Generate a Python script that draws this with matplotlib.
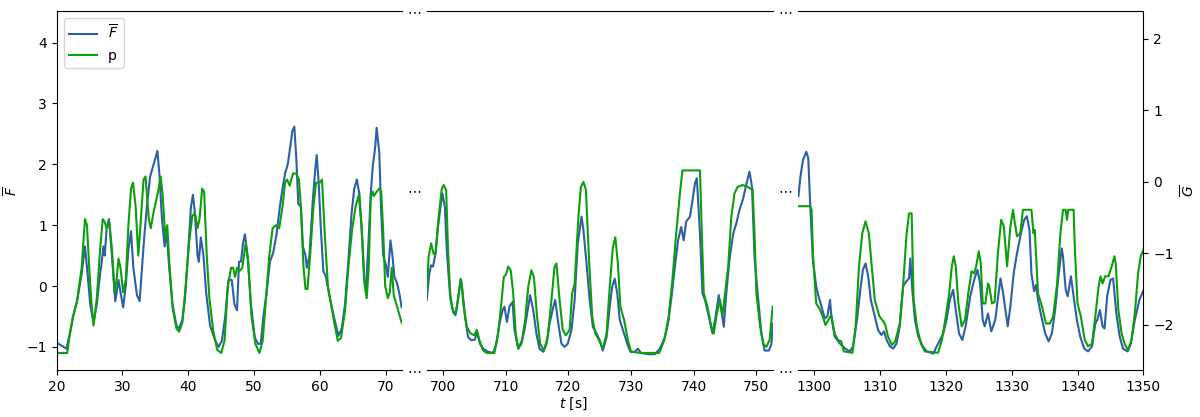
import matplotlib
matplotlib.use("Agg")
import matplotlib.pyplot as plt
import numpy as np

# segment 1 (20 - 72 s), F units
t1_f = [20.0, 21.5, 22.0, 22.5, 23.1, 23.8, 24.3, 24.7, 25.1, 25.6, 26.1, 26.6, 26.8, 27.1, 27.3,
        27.6, 27.95, 28.4, 28.9, 29.4, 29.7, 30.1, 30.5, 30.9, 31.3, 31.65, 32.2, 32.6, 32.9, 33.3,
        33.7, 34.2, 34.6, 35.0, 35.3, 35.6, 36.0, 36.4, 36.7, 37.1, 37.6, 38.2, 38.6, 39.1, 39.5,
        40.0, 40.4, 40.7, 41.0, 41.4, 41.6, 41.9, 42.3, 42.7, 43.3, 44.1, 44.6, 45.1, 45.6, 46.1,
        46.6, 47.0, 47.4, 47.7, 48.0, 48.3, 48.6, 49.0, 49.5, 50.1, 50.6, 51.0, 51.4, 51.9, 52.4,
        52.9, 53.4, 53.9, 54.3, 54.7, 55.1, 55.5, 55.8, 56.1, 56.4, 56.7, 57.1, 57.4, 57.8, 58.0,
        58.4, 58.9, 59.3, 59.5, 59.8, 60.1, 60.5, 60.9, 61.5, 62.1, 62.8, 63.3, 63.8, 64.3, 64.8,
        65.2, 65.6, 66.0, 66.4, 66.7, 67.0, 67.4, 67.7, 68.0, 68.4, 68.6, 69.0, 69.3, 69.6, 70.0,
        70.3, 70.7, 71.0, 71.3, 71.7, 72.1, 72.4]
F1 = [-0.93, -1.03, -0.78, -0.5, -0.25, 0.2, 0.65, 0.2, -0.3, -0.6, -0.3, 0.2, 0.35, 0.65, 0.5,
      0.95, 1.1, 0.5, -0.25, 0.1, -0.1, -0.35, 0.0, 0.6, 0.9, 0.3, -0.15, -0.25, 0.2, 0.8,
      1.3, 1.8, 1.95, 2.1, 2.22, 1.85, 1.1, 0.65, 0.9, 0.3, -0.3, -0.65, -0.7, -0.55, -0.2,
      0.6, 1.3, 1.5, 1.2, 0.5, 0.4, 0.8, 0.5, -0.1, -0.65, -0.9, -1.0, -0.9, -0.5, 0.1,
      0.1, -0.3, -0.4, 0.4, 0.4, 0.7, 0.85, 0.5, -0.3, -0.85, -0.95, -0.95, -0.5, -0.1, 0.4,
      0.55, 0.85, 1.3, 1.6, 1.85, 2.0, 2.3, 2.55, 2.62, 2.1, 1.35, 1.3, 0.65, 0.5, 0.3,
      0.5, 1.4, 1.95, 2.15, 1.7, 1.0, 0.25, 0.15, -0.2, -0.5, -0.82, -0.7, -0.3, 0.4, 1.2,
      1.6, 1.75, 1.5, 0.8, 0.1, -0.05, 0.8, 1.5, 1.95, 2.3, 2.6, 2.2, 1.2, 0.5, 0.35,
      0.15, 0.75, 0.5, 0.15, 0.05, -0.15, -0.35]
t1_p = [20.0, 21.6, 22.0, 22.5, 23.1, 23.8, 24.3, 24.6, 25.0, 25.3, 25.6, 26.1, 26.6, 27.0, 27.3,
        27.6, 28.0, 28.4, 28.8, 29.1, 29.4, 29.7, 30.1, 30.5, 30.9, 31.3, 31.6, 32.0, 32.4, 32.8,
        33.2, 33.5, 34.0, 34.3, 34.7, 35.1, 35.5, 35.8, 36.1, 36.5, 36.8, 37.1, 37.6, 38.2, 38.6,
        39.1, 39.6, 40.1, 40.6, 41.0, 41.4, 41.7, 42.1, 42.4, 42.8, 43.2, 43.8, 44.4, 45.0, 45.5,
        46.0, 46.5, 46.8, 47.1, 47.4, 47.8, 48.2, 48.7, 49.1, 49.6, 50.2, 50.8, 51.3, 51.8, 52.3,
        52.8, 53.3, 53.8, 54.3, 54.7, 55.0, 55.4, 55.9, 56.4, 56.8, 57.1, 57.5, 57.8, 58.1, 58.5,
        59.0, 59.4, 60.0, 60.3, 60.7, 61.2, 62.0, 62.7, 63.2, 63.8, 64.3, 64.9, 65.4, 65.9, 66.3,
        66.8, 67.1, 67.4, 67.7, 68.0, 68.2, 68.6, 69.0, 69.3, 69.6, 69.9, 70.3, 70.6, 70.9, 71.2,
        71.6, 72.0, 72.4]
p1 = [-1.1, -1.1, -0.8, -0.5, -0.25, 0.3, 1.1, 1.0, 0.2, -0.3, -0.65, -0.2, 0.6, 1.1, 1.05,
      0.95, 1.05, 0.6, -0.1, 0.1, 0.45, 0.3, -0.1, 0.1, 1.0, 1.6, 1.7, 1.3, 0.5, 1.1,
      1.75, 1.8, 1.1, 0.95, 1.2, 1.4, 1.6, 1.8, 1.5, 0.8, 1.0, 0.4, -0.35, -0.7, -0.75,
      -0.6, 0.0, 0.7, 1.15, 1.2, 0.95, 1.1, 1.6, 1.55, 0.5, -0.2, -0.75, -1.05, -1.1, -0.9,
      0.0, 0.3, 0.3, 0.15, 0.3, 0.25, 0.3, 0.7, 0.4, -0.5, -0.95, -1.1, -0.9, -0.2, 0.5,
      0.95, 1.0, 0.95, 1.3, 1.7, 1.75, 1.65, 1.85, 1.85, 1.75, 1.3, 0.3, -0.05, -0.05, 0.5,
      1.3, 1.7, 1.7, 1.75, 0.9, 0.0, -0.5, -0.9, -0.85, -0.4, 0.3, 0.95, 1.3, 1.5, 1.0,
      0.0, -0.2, 0.3, 1.45, 1.55, 1.48, 1.55, 1.6, 1.55, 0.9, 0.0, -0.2, -0.1, 0.3, -0.15,
      -0.3, -0.45, -0.6]

# segment 2 (697 - 753 s), F units
t2_f = [697.4, 697.8, 698.1, 698.4, 698.8, 699.2, 699.6, 699.9, 700.3, 700.6, 701.1, 701.6, 702.0,
        702.4, 702.8, 703.1, 703.5, 704.0, 704.5, 705.1, 705.4, 705.9, 706.4, 707.2, 708.0, 708.5,
        709.0, 709.5, 709.8, 710.2, 710.6, 711.1, 711.4, 712.0, 712.5, 713.0, 713.6, 713.9, 714.4,
        714.9, 715.4, 716.0, 716.5, 717.0, 717.6, 717.9, 718.4, 718.9, 719.4, 719.9, 720.5, 721.0,
        721.5, 722.1, 722.4, 722.9, 723.4, 723.9, 724.5, 725.0, 725.5, 726.1, 726.6, 727.0, 727.4,
        727.8, 728.2, 728.7, 729.4, 729.9, 730.6, 731.1, 731.6, 732.7, 733.8, 734.6, 735.4, 735.9,
        736.4, 737.0, 737.5, 738.0, 738.4, 738.8, 739.4, 739.9, 740.2, 740.5, 741.0, 741.4, 741.8,
        742.3, 743.0, 743.5, 744.0, 744.4, 744.8, 745.2, 745.7, 746.3, 746.8, 747.3, 747.9, 748.3,
        748.9, 749.3, 749.7, 750.3, 750.8, 751.3, 752.0, 752.4, 752.6]
F2 = [-0.23, 0.2, 0.34, 0.32, 0.53, 0.97, 1.3, 1.52, 1.3, 0.59, -0.12, -0.42, -0.48,
      -0.23, 0.12, -0.07, -0.5, -0.84, -0.89, -0.88, -0.75, -0.95, -1.03, -1.08, -1.1, -0.95,
      -0.62, -0.4, -0.34, -0.59, -0.34, -0.26, -0.72, -1.03, -0.95, -0.72, -0.34, -0.15, -0.4,
      -0.78, -1.03, -1.08, -0.95, -0.62, -0.34, -0.23, -0.62, -0.95, -1.0, -0.95, -0.72, -0.23,
      0.7, 1.14, 0.92, 0.37, -0.23, -0.67, -0.78, -0.89, -1.06, -0.84, -0.34, -0.01, 0.12,
      -0.12, -0.56, -0.72, -0.95, -1.08, -1.08, -1.03, -1.1, -1.12, -1.12, -1.03, -0.84, -0.62,
      -0.23, 0.32, 0.75, 0.97, 0.75, 1.06, 1.14, 1.47, 1.69, 1.77, 0.86, -0.12, -0.23,
      -0.45, -0.78, -0.5, -0.15, -0.4, -0.67, -0.12, 0.43, 0.86, 1.03, 1.25, 1.44, 1.63,
      1.88, 1.63, 0.48, -0.23, -0.78, -1.06, -1.06, -0.95, -0.62]
t2_p = [697.4, 697.7, 698.1, 698.5, 698.8, 699.3, 699.8, 700.1, 700.5, 700.8, 701.2, 701.7, 702.1,
        702.5, 702.9, 703.3, 703.8, 704.4, 705.0, 705.4, 705.8, 706.4, 707.0, 708.2, 708.8, 709.3,
        709.7, 710.1, 710.4, 710.8, 711.2, 711.6, 712.0, 712.6, 713.1, 713.6, 714.1, 714.5, 715.0,
        715.5, 716.1, 716.7, 717.3, 717.8, 718.1, 718.6, 719.1, 719.6, 720.2, 720.6, 721.0, 721.6,
        722.0, 722.4, 722.8, 723.3, 723.8, 724.3, 724.9, 725.5, 726.1, 726.6, 727.1, 727.5, 727.9,
        728.3, 728.9, 729.5, 730.0, 731.5, 734.5, 735.3, 736.0, 736.6, 737.2, 737.8, 738.2, 741.0,
        741.3, 741.6, 742.2, 742.8, 743.2, 743.7, 744.2, 744.6, 745.0, 745.5, 746.0, 746.5, 747.0,
        747.8, 748.6, 749.4, 749.7, 750.0, 750.6, 751.1, 751.6, 752.1, 752.4, 752.6]
p2 = [-0.12, 0.48, 0.7, 0.53, 0.53, 1.14, 1.6, 1.66, 1.58, 0.59, -0.23, -0.45, -0.4,
      -0.12, 0.1, -0.34, -0.67, -0.78, -0.81, -0.72, -0.89, -1.06, -1.1, -1.1, -0.78, -0.29,
      0.15, 0.2, 0.32, 0.26, -0.12, -0.78, -1.03, -0.89, -0.56, -0.01, 0.26, 0.15, -0.5,
      -0.95, -1.06, -0.84, -0.23, 0.32, 0.37, -0.23, -0.72, -0.81, -0.72, -0.12, 0.04, 1.14,
      1.63, 1.71, 1.58, 0.43, -0.5, -0.78, -0.89, -1.03, -0.78, -0.01, 0.64, 0.8, 0.37,
      -0.34, -0.56, -0.89, -1.08, -1.1, -1.1, -0.89, -0.5, 0.1, 0.86, 1.52, 1.9, 1.9,
      0.86, -0.12, -0.34, -0.67, -0.78, -0.45, -0.23, -0.48, -0.12, 0.32, 1.14, 1.52, 1.63,
      1.66, 1.63, 1.58, 0.86, -0.12, -0.67, -0.95, -1.0, -0.89, -0.56, -0.34]

# segment 3 (1297 - 1350 s), G units (right axis)
t3_f = [1297.6, 1297.9, 1298.3, 1298.8, 1299.1, 1299.4, 1299.8, 1300.3, 1300.6, 1301.1, 1301.6,
        1302.0, 1302.4, 1302.6, 1303.1, 1303.9, 1304.7, 1305.4, 1305.9, 1306.5, 1307.0, 1307.4,
        1307.8, 1308.2, 1308.6, 1309.1, 1309.7, 1310.2, 1310.6, 1311.0, 1311.5, 1312.0, 1312.5,
        1313.0, 1313.5, 1314.0, 1314.4, 1314.6, 1314.9, 1315.3, 1315.8, 1316.5, 1317.1, 1318.1,
        1318.6, 1319.1, 1319.6, 1320.1, 1320.6, 1321.1, 1321.5, 1322.0, 1322.5, 1323.0, 1323.7,
        1324.3, 1324.8, 1325.2, 1325.6, 1325.9, 1326.4, 1326.9, 1327.5, 1328.0, 1328.3, 1328.7,
        1329.4, 1329.8, 1330.3, 1330.8, 1331.4, 1331.9, 1332.3, 1332.7, 1333.0, 1333.4, 1333.7,
        1334.0, 1334.5, 1335.1, 1335.6, 1336.1, 1336.6, 1337.1, 1337.6, 1337.8, 1338.2, 1338.5,
        1339.0, 1339.4, 1339.9, 1340.4, 1341.0, 1341.6, 1342.2, 1342.7, 1343.0, 1343.4, 1343.8,
        1344.1, 1344.5, 1345.0, 1345.4, 1345.9, 1346.4, 1346.9, 1347.6, 1348.1, 1348.7, 1349.4,
        1350.0]
F3 = [-0.2, 0.07, 0.31, 0.42, 0.33, -0.35, -1.09, -1.46, -1.58, -1.74, -1.91,
      -1.88, -1.65, -1.88, -2.16, -2.26, -2.33, -2.37, -2.3, -1.93, -1.51, -1.23,
      -1.14, -1.32, -1.65, -1.84, -2.07, -2.14, -2.09, -2.21, -2.3, -2.33, -2.26,
      -2.02, -1.46, -1.39, -1.35, -1.07, -1.51, -1.93, -2.16, -2.3, -2.37, -2.4,
      -2.3, -2.21, -2.12, -1.93, -1.65, -1.51, -1.79, -2.12, -2.21, -2.02, -1.6,
      -1.37, -1.23, -1.42, -1.93, -2.02, -1.84, -2.09, -1.93, -1.56, -1.35, -1.56,
      -2.02, -1.74, -1.28, -1.0, -0.72, -0.53, -0.48, -0.67, -1.28, -1.53, -1.44,
      -1.65, -1.88, -2.12, -2.23, -2.12, -1.79, -1.32, -0.93, -1.05, -1.51, -1.6,
      -1.32, -1.6, -1.93, -2.16, -2.33, -2.37, -2.3, -1.98, -1.93, -1.79, -2.02,
      -2.05, -1.6, -1.37, -1.35, -1.84, -2.16, -2.33, -2.37, -2.26, -1.93, -1.65,
      -1.52]
t3_p = [1297.5, 1299.4, 1299.6, 1299.8, 1300.3, 1300.8, 1301.3, 1301.7, 1302.3, 1302.6, 1303.1,
        1303.6, 1304.1, 1304.5, 1305.8, 1306.3, 1306.8, 1307.3, 1307.8, 1308.3, 1308.7, 1309.2,
        1309.9, 1310.5, 1310.8, 1311.2, 1311.8, 1312.3, 1313.0, 1313.5, 1314.0, 1314.4, 1314.8,
        1315.1, 1315.6, 1316.2, 1316.8, 1318.8, 1319.4, 1319.9, 1320.5, 1320.9, 1321.2, 1321.5,
        1321.9, 1322.4, 1322.9, 1323.4, 1323.9, 1324.3, 1324.6, 1325.0, 1325.3, 1325.6, 1326.0,
        1326.4, 1326.6, 1327.0, 1327.4, 1327.9, 1328.4, 1328.8, 1329.3, 1329.8, 1330.2, 1330.4,
        1330.8, 1331.3, 1331.7, 1333.0, 1333.3, 1333.5, 1334.0, 1334.6, 1335.2, 1335.8, 1336.3,
        1336.9, 1337.4, 1337.8, 1338.2, 1338.4, 1338.6, 1339.4, 1339.6, 1340.0, 1340.5, 1341.1,
        1341.6, 1342.2, 1342.7, 1343.2, 1343.5, 1343.8, 1344.2, 1344.7, 1345.2, 1345.6, 1345.8,
        1346.2, 1346.7, 1347.2, 1347.7, 1348.2, 1348.7, 1349.2, 1349.6, 1350.0]
p3 = [-0.34, -0.34, -0.39, -1.0, -1.7, -1.77, -1.88, -2.0, -1.91, -1.86, -2.12,
      -2.21, -2.23, -2.37, -2.39, -2.02, -1.18, -0.72, -0.55, -0.72, -1.14, -1.65,
      -1.88, -1.95, -2.0, -2.16, -2.28, -2.23, -1.98, -1.46, -0.76, -0.44, -0.44,
      -1.65, -2.02, -2.26, -2.37, -2.39, -2.21, -1.93, -1.56, -1.18, -1.04, -1.18,
      -1.7, -2.02, -1.93, -1.56, -1.25, -1.28, -1.18, -0.97, -1.14, -1.7, -1.7,
      -1.42, -1.46, -1.7, -1.68, -1.0, -0.53, -0.62, -1.18, -0.62, -0.39, -0.53,
      -0.76, -0.72, -0.39, -0.39, -0.72, -0.67, -1.56, -1.74, -1.98, -1.98, -1.88,
      -1.42, -0.72, -0.39, -0.39, -0.53, -0.39, -0.39, -0.95, -1.7, -1.88, -2.21,
      -2.3, -2.26, -1.88, -1.46, -1.32, -1.42, -1.32, -1.32, -1.18, -1.04, -1.14,
      -1.79, -2.12, -2.28, -2.35, -2.21, -1.84, -1.28, -1.04, -0.95]

blue = "#2c5fa6"
green = "#0c9f0c"

fig = plt.figure(figsize=(12, 4.17), dpi=100)
bottom, height = 0.1127, 0.861
ax1 = fig.add_axes([0.0472, bottom, 0.2875, height])
ax2 = fig.add_axes([0.3556, bottom, 0.2883, height])
ax3 = fig.add_axes([0.6648, bottom, 0.2880, height])

ax1.plot(t1_f, F1, color=blue, lw=1.5, label=r"$\overline{F}$")
ax1.plot(t1_p, p1, color=green, lw=1.5, label="p")
ax2.plot(t2_f, F2, color=blue, lw=1.5)
ax2.plot(t2_p, p2, color=green, lw=1.5)
ax3.plot(t3_f, F3, color=blue, lw=1.5)
ax3.plot(t3_p, p3, color=green, lw=1.5)

ax1.set_xlim(20, 72.4)
ax2.set_xlim(697.4, 752.6)
ax3.set_xlim(1297.5, 1350)
for ax in (ax1, ax2):
    ax.set_ylim(-1.38, 4.52)
ax3.set_ylim(-2.63, 2.39)

ax1.set_xticks(np.arange(20, 71, 10))
ax2.set_xticks(np.arange(700, 751, 10))
ax3.set_xticks(np.arange(1300, 1351, 10))
ax1.set_yticks(np.arange(-1, 5, 1))
ax3.set_yticks(np.arange(-2, 3, 1))

ax1.spines["right"].set_visible(False)
ax2.spines["left"].set_visible(False)
ax2.spines["right"].set_visible(False)
ax3.spines["left"].set_visible(False)
ax2.tick_params(left=False, labelleft=False)
ax3.tick_params(left=False, labelleft=False, right=True, labelright=True)
ax3.yaxis.set_label_position("right")

ax1.set_ylabel(r"$\overline{F}$")
ax3.set_ylabel(r"$\overline{G}$")
ax1.legend(loc="upper left")

fig.text(0.478, 0.012, r"$t$ [s]", ha="center", va="bottom", fontsize=10)

# break markers between panels
for xp in (414.5 / 1200, 785.5 / 1200):
    for yp in (bottom + height, bottom + height / 2, bottom):
        fig.text(xp, yp, r"$\cdots$", ha="center", va="center", fontsize=10)

fig.savefig("out.png", dpi=100)
